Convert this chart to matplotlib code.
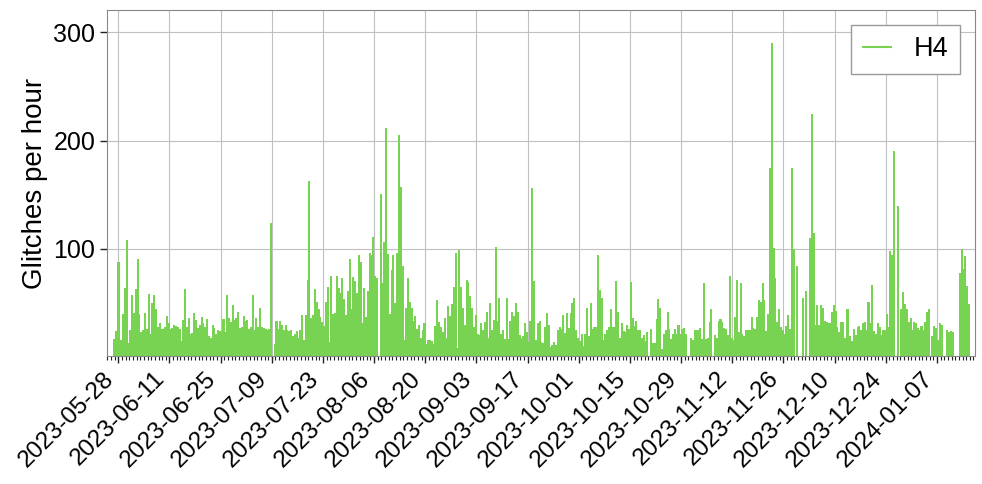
import matplotlib
matplotlib.use("Agg")
import matplotlib.pyplot as plt
import matplotlib.dates as mdates
from matplotlib.lines import Line2D
import numpy as np
import pandas as pd

plt.rcParams['font.family'] = ['Liberation Sans', 'DejaVu Sans']

nan = np.nan

# 12-hour bins starting 2023-05-26 12:00
start = "2023-05-26 12:00"
detector = "H4"

rate_may_jul = [
    17, 24, 88, 88, 16, 40, 64, 108, 13, 25,
    57, 41, 63, 91, 40, 23, 25, 41, 26, 58,
    21, 50, 57, 44, 28, 31, 26, 26, 28, 38,
    31, 26, 27, 30, 29, 28, 26, 15, 34, 63,
    28, 36, 21, 22, 41, 34, 27, 30, 37, 31,
    28, 35, 19, 18, 30, 27, 21, 25, 24, 24,
    35, 23, 57, 36, 32, 48, 34, 36, 42, 27,
    28, 38, 33, 34, 26, 28, 57, 25, 36, 28,
    45, 28, 27, 26, 25, 26, 124, nan, 12, 33,
    26, 33, 30, 25, 30, 25, 24, 25, 19, 21,
    24, 18,
]

rate_jul_sep = [
    25, 39, 16, 39, 71, 163, 36, 39, 63, 51,
    44, 37, 32, 29, 51, 65, 14, 75, 40, 41,
    75, 64, 59, 73, 54, 39, 61, 91, 44, 74,
    70, 59, 94, 88, 31, 64, 37, 61, 96, 94,
    111, 75, 73, nan, 151, 68, 106, 212, 95, 40,
    80, 94, 50, 96, 205, 157, 84, 16, 45, 73,
    51, 45, 33, 38, 26, 30, 18, 25, 31, 12,
    16, 16, 15, 12, 29, 53, 32, 28, 23, 36,
    18, 47, 38, 49, 65, 96, 8, 99, 65, 45,
    30, 71, 69, 56, 45, 28, 39, 21, 20, 31,
    25, 32, 42, 18, 50, 25, 34, 102, 33,
]

rate_sep_nov = [
    55, 21, 25, 17, 55, 17, 33, 42, 38, 50,
    42, 20, 18, 19, 31, 23, 14, 33, 156, 70,
    16, 31, 33, 14, 13, 28, 41, 30, 9, 11,
    14, 11, 25, 28, 26, 39, 22, 41, 27, 41,
    50, 55, 25, 18, 15, 21, 10, 21, 45, 19,
    50, 26, 28, 28, 94, 62, 55, 16, 21, 25,
    28, 44, 28, 28, 70, 42, 18, 31, 24, 23,
    30, 26, 69, 36, 29, 33, 25, 25, 18, 20,
    15, 23, nan, 26, 13, 13, 35, 54, 45, 7,
    21, 25, 42, 26, 17, 21, 26, 21, 30, 21,
    26, 27, 21, nan, nan, 18, 16, 25, 25,
]

rate_nov_dec = [
    25, 27, 17, 68, 17, 18, 32, 44, nan, 20,
    18, 33, 35, 32, 27, 26, 20, 75, 18, 16,
    37, 71, 23, 68, 21, 19, 25, 25, 25, 37,
    27, 26, 37, 53, 51, 68, 53, 24, 40, 175,
    290, 101, 73, 32, 44, 28, 25, 21, 29, 39,
    26, 175, 100, nan, 84, nan, nan, 55, nan, 61,
    nan, 110, 225, 115, 30, 48, 30, 48, 45, 33,
    32, 31, 31, 42, 48, 43, 28, 23, 32, 32,
    18, 44,
]

rate_dec_jan = [
    44, 19, 15, 26, 20, 28, 29, 25, 31, 32,
    25, 51, 31, 67, 24, 21, 31, 28, 20, 25,
    25, 40, 28, 98, 94, 190, nan, 140, nan, 44,
    60, 49, 44, 32, 36, 25, 32, 31, 27, 25,
    29, 25, 32, 42, 44, nan, 19, 29, 27, 16,
    31, 30, nan, nan, 25, 23, 24, 23, nan, nan,
    nan, 78, 100, 81, 93, 66, 49,
]

tick_dates = pd.date_range("2023-05-28", "2024-01-07", freq="14D")

rates = np.array(rate_may_jul + rate_jul_sep + rate_sep_nov
                 + rate_nov_dec + rate_dec_jan, dtype=float)
times = pd.date_range(start, periods=len(rates), freq="12h")
tnum = mdates.date2num(times.to_pydatetime())
ok = ~np.isnan(rates)

color = "#79d353"

fig = plt.figure(figsize=(9.82, 4.84), dpi=100)
ax = fig.add_axes([0.109, 0.265, 0.884, 0.714])

ax.bar(tnum[ok], rates[ok], width=0.56, align="edge", color=color,
       linewidth=0, antialiased=False, zorder=2)
ax.xaxis_date()

ax.set_xlim(mdates.date2num(pd.Timestamp("2023-05-24 21:50")),
            mdates.date2num(pd.Timestamp("2024-01-17 10:50")))
ax.set_ylim(1.2, 320.6)

ax.set_xticks(mdates.date2num(tick_dates.to_pydatetime()))
ax.set_xticklabels([d.strftime("%Y-%m-%d") for d in tick_dates],
                   rotation=45, ha="right", fontsize=17.5)
ax.xaxis.set_minor_locator(mdates.DayLocator())
ax.set_yticks([100, 200, 300])

ax.tick_params(axis="both", which="major", length=5, width=1,
               color="#222222")
ax.tick_params(axis="y", which="major", labelsize=18)
ax.tick_params(axis="x", which="minor", length=3, width=0.8, color="#222222")
ax.grid(True, which="major", color="#c0c0c0", linewidth=0.8, zorder=0)
ax.set_axisbelow(True)
for s in ax.spines.values():
    s.set_color("#888888")

ax.set_ylabel("Glitches per hour", fontsize=20)

handle = Line2D([0], [0], color=color, linewidth=1.5)
leg = ax.legend([handle], [detector], loc="upper right", fontsize=19.5,
                fancybox=False, framealpha=1, edgecolor="#999999",
                handlelength=1.06, handletextpad=0.85, borderpad=0.42,
                borderaxespad=0.55)
leg.get_frame().set_linewidth(1)

fig.savefig("out.png", dpi=100)
